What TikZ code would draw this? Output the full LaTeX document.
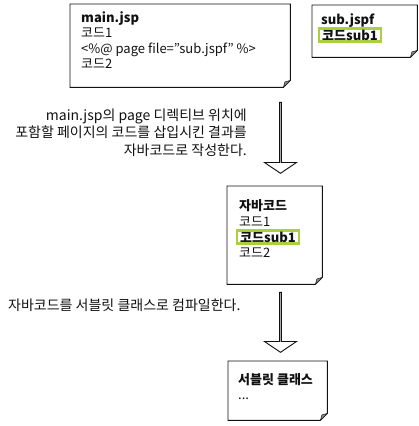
\documentclass[tikz,border=0pt]{standalone}
\usepackage{fontspec}
\setmainfont{Noto Sans CJK KR}
\usepackage{xcolor}
\usetikzlibrary{shapes.arrows,positioning}
\definecolor{hlgreen}{HTML}{A9D13B}
\definecolor{foldgray}{HTML}{8C8C8C}
\definecolor{ink}{HTML}{111111}
\tikzset{
  docbox/.style={
    rectangle, draw=none, inner sep=0pt, anchor=north west
  },
  docline/.style={draw=ink, line width=0.9pt},
  foldline/.style={draw=ink, fill=foldgray, line width=0.5pt, line join=round},
  txt/.style={
    font=\fontsize{13}{15}\selectfont, text=ink,
    inner sep=0pt, anchor=base west
  },
  txtb/.style={txt, font=\fontsize{13}{15}\selectfont\bfseries},
  desc/.style={txt, font=\fontsize{14}{17}\selectfont},
  hlbox/.style={
    txtb, draw=hlgreen, fill=white, line width=2.4pt,
    inner xsep=3pt, inner ysep=1.2pt
  },
  bigarrow/.style={
    single arrow, draw=ink, fill=white, line width=0.9pt,
    minimum width=32pt, single arrow head extend=7.5pt,
    single arrow tip angle=112, shape border rotate=270, inner sep=0pt
  },
}
% outline of a page with a folded corner
\newcommand{\dogear}[1]{%
  \draw[docline] (#1.north west) -- (#1.north east) -- ([yshift=7pt]#1.south east)
    -- ([xshift=-7pt]#1.south east) -- (#1.south west) -- cycle;
  \filldraw[foldline] ([yshift=7pt]#1.south east) -- ([xshift=-7pt]#1.south east)
    -- ([xshift=-5.5pt,yshift=5.5pt]#1.south east) -- cycle;
}

\begin{document}
\begin{tikzpicture}[x=1pt,y=-1pt]
  \useasboundingbox (0,0) rectangle (419,426);

  % pages
  \node[docbox, minimum width=220pt, minimum height=83pt] (main) at (70,4) {};
  \node[docbox, minimum width=105pt, minimum height=52pt] (sub) at (312,5) {};
  \node[docbox, minimum width=95pt, minimum height=98pt] (java) at (227,186) {};
  \node[docbox, minimum width=99pt, minimum height=59pt] (servlet) at (228,361) {};
  \foreach \b in {main,sub,java,servlet} \dogear{\b};

  % main.jsp
  \node[txtb] (mainT) at (81,22) {main.jsp};
  \node[txt] (mainA) at (81,37.5) {코드1};
  \node[txt] (mainB) at (81,53) {<\%@ page file="sub.jspf" \%>};
  \node[txt] (mainC) at (81,68.5) {코드2};

  % sub.jspf
  \node[txtb] (subT) at (321,24) {sub.jspf};
  \node[hlbox] (subA) at (318,40) {코드sub1};

  % step 1
  \node[bigarrow, minimum height=71pt] (arrA) at (280.5,137.5) {};
  \node[desc, anchor=base east] (stepA1) at (247,120) {main.jsp의 page 디렉티브 위치에};
  \node[desc, anchor=base east] (stepA2) at (247,137.5) {포함할 페이지의 코드를 삽입시킨 결과를};
  \node[desc, anchor=base east] (stepA3) at (247,155) {자바코드로 작성한다.};

  % java code
  \node[txtb] (javaT) at (239,210) {자바코드};
  \node[txt] (javaA) at (239,226.5) {코드1};
  \node[hlbox] (javaB) at (236,242) {코드sub1};
  \node[txt] (javaC) at (239,257.5) {코드2};

  % step 2
  \node[bigarrow, minimum height=60pt] (arrB) at (280.5,322) {};
  \node[desc] (stepB) at (8,310) {자바코드를 서블릿 클래스로 컴파일한다.};

  % servlet
  \node[txtb] (servT) at (238,384) {서블릿 클래스};
  \node[txt] (servA) at (238,399) {...};
\end{tikzpicture}
\end{document}
